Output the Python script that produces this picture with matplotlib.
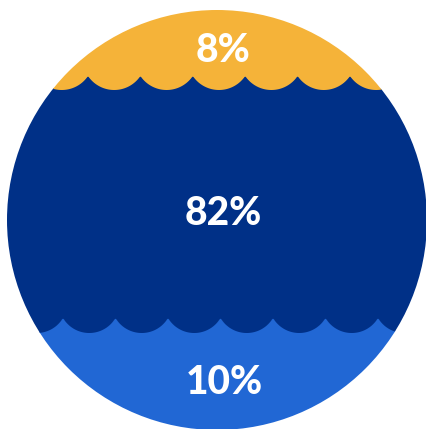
import numpy as np
import matplotlib
matplotlib.use("Agg")
import matplotlib.pyplot as plt
from matplotlib.patches import Circle

# chart data
labels = ["8%", "82%", "10%"]
values = [8, 82, 10]
colors = ["#F5B339", "#003087", "#2167D4"]

W, H = 427, 429


def wave(x, cusp0, period, y_cusp, depth):
    """scalloped edge: arcs hanging down between little upward cusps"""
    half = period / 2.0
    r = (half ** 2 + depth ** 2) / (2 * depth)
    u = ((x - cusp0) % period) - half
    y = y_cusp + depth - r + np.sqrt(r ** 2 - u ** 2)
    # soften the cusps a bit
    k = np.ones(7) / 7
    return np.convolve(np.pad(y, 3, mode="edge"), k, mode="valid")


fig = plt.figure(figsize=(W / 100, H / 100), dpi=100)
ax = fig.add_axes([0, 0, 1, 1])
ax.set_xlim(0, W)
ax.set_ylim(H, 0)
ax.axis("off")

circ = Circle((217, 220), 210, transform=ax.transData, facecolor="none", edgecolor="none")
ax.add_patch(circ)

xs = np.linspace(0, W, 1500)
top_edge = wave(xs, 88, 52.4, 76, 14)
bottom_edge = wave(xs, 63, 52.5, 318, 15)

bands = [
    ax.fill_between(xs, -5, top_edge, color=colors[0], lw=0, zorder=3),
    ax.fill_between(xs, top_edge - 1, bottom_edge, color=colors[1], lw=0, zorder=2),
    ax.fill_between(xs, bottom_edge - 1, H + 5, color=colors[2], lw=0, zorder=1),
]
for b in bands:
    b.set_clip_path(circ)

label_pos = [(223, 47), (223, 210), (224, 379)]
for (x, y), lab in zip(label_pos, labels):
    ax.text(x, y, lab, color="white", fontsize=28, fontweight="black",
            family="Lato", ha="center", va="center_baseline", zorder=5)

fig.savefig("out.png", dpi=100)
